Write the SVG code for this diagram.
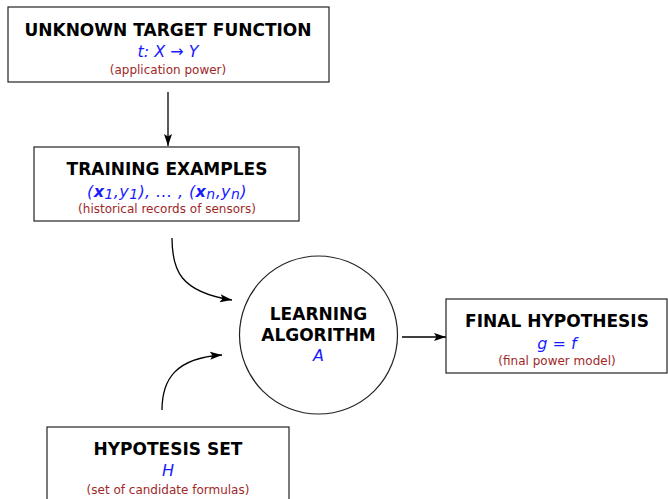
<svg xmlns="http://www.w3.org/2000/svg" width="668" height="499" viewBox="0 0 668 499">
<style>
.box{fill:#fff;stroke:#222;stroke-width:1.2}
.t{font-family:"DejaVu Sans",Verdana,sans-serif;font-weight:bold;font-size:17px;fill:#000;text-anchor:middle}
.m{font-family:"DejaVu Sans",Verdana,sans-serif;font-style:italic;font-size:16px;fill:#1a1aff;text-anchor:middle}
.s{font-family:"DejaVu Sans",Verdana,sans-serif;font-size:12px;fill:#a02828;text-anchor:middle}
.c{fill:none;stroke:#000;stroke-width:1.3}
</style>
<defs>
<marker id="ah" viewBox="0 0 12 10" refX="12" refY="5" markerWidth="12" markerHeight="10" markerUnits="userSpaceOnUse" orient="auto">
<path d="M0,1 L12,5 L0,9 L2.5,5 Z" fill="#000"/>
</marker>
</defs>
<g id="connectors">
<path class="c" d="M168,92 L168,146" marker-end="url(#ah)"/>
<path class="c" d="M172,238 C172,270 180,292 232,300" marker-end="url(#ah)"/>
<path class="c" d="M162,410 C162,380 175,358 222,355" marker-end="url(#ah)"/>
<path class="c" d="M402,337 L446,337" marker-end="url(#ah)"/>
</g>
<g id="target">
<rect class="box" x="8" y="7" width="321" height="75"/>
<text class="t" x="168" y="36">UNKNOWN TARGET FUNCTION</text>
<text class="m" x="168" y="57">t: X → Y</text>
<text class="s" x="168" y="74">(application power)</text>
</g>
<g id="training">
<rect class="box" x="34" y="147" width="265" height="74"/>
<text class="t" x="167" y="175">TRAINING EXAMPLES</text>
<text class="m" x="167" y="197" letter-spacing="0.4">(<tspan font-weight="bold">x</tspan><tspan font-size="14" dy="2">1</tspan><tspan dy="-2">,y</tspan><tspan font-size="14" dy="2">1</tspan><tspan dy="-2">), ... , (</tspan><tspan font-weight="bold">x</tspan><tspan font-size="14" dy="2">n</tspan><tspan dy="-2">,y</tspan><tspan font-size="14" dy="2">n</tspan><tspan dy="-2">)</tspan></text>
<text class="s" x="167" y="213">(historical records of sensors)</text>
</g>
<g id="algorithm">
<circle class="box" cx="318.5" cy="335" r="79"/>
<text class="t" x="318.5" y="320">LEARNING</text>
<text class="t" x="318.5" y="341">ALGORITHM</text>
<text class="m" x="318.5" y="361">A</text>
</g>
<g id="final">
<rect class="box" x="446" y="299" width="221" height="74"/>
<text class="t" x="557" y="327">FINAL HYPOTHESIS</text>
<text class="m" x="557" y="349">g = f</text>
<text class="s" x="557" y="365">(final power model)</text>
</g>
<g id="hypset">
<rect class="box" x="47" y="427" width="242" height="80"/>
<text class="t" x="168" y="455">HYPOTESIS SET</text>
<text class="m" x="168" y="476">H</text>
<text class="s" x="168" y="494">(set of candidate formulas)</text>
</g>
</svg>
